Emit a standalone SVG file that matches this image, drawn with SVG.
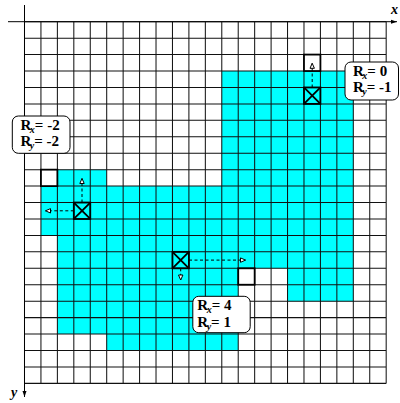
<svg xmlns="http://www.w3.org/2000/svg" width="400" height="403" viewBox="0 0 400 403">
<style>
.grid{fill:none;stroke:#111;stroke-width:0.062}
.fillreg{fill:#00FFFF;stroke:none}
.bold{fill:none;stroke:#000;stroke-width:0.11}
.wbox{fill:#fff;stroke:#000;stroke-width:0.11}
.axis{fill:none;stroke:#000;stroke-width:1}
.dash{fill:none;stroke:#000;stroke-width:1;stroke-dasharray:3,2.5}
.lblbox{fill:#fff;stroke:#000;stroke-width:1}
.lbl{font-family:"Liberation Serif","Times New Roman",serif;font-size:15px;font-weight:bold;fill:#000}
.sub{font-size:10px;font-style:italic}
.axl{font-family:"Liberation Serif","Times New Roman",serif;font-size:14px;font-weight:bold;font-style:italic;fill:#000}
</style>
<defs>
<marker id="ah" markerUnits="userSpaceOnUse" markerWidth="8" markerHeight="8" viewBox="0 0 8 8" refX="6" refY="4" orient="auto">
<path d="M1,1.8 L6,4 L1,6.2 Z" fill="#fff" stroke="#000" stroke-width="1"/>
</marker>
<marker id="axh" markerUnits="userSpaceOnUse" markerWidth="8" markerHeight="8" viewBox="0 0 8 8" refX="6" refY="4" orient="auto">
<path d="M0,2 L6,4 L0,6 Z" fill="#000" stroke="none"/>
</marker>
</defs>
<rect width="400" height="403" fill="#fff"/>
<g id="plane" transform="translate(24.5 21.7) scale(16.44)">
<path id="region" class="fillreg" d="M12,3 H20 V17 H16 V15 H13 V20 H5 V19 H2 V13 H1 V10 H2 V9 H5 V10 H12 Z"/>
<path class="grid" d="M0,0V22M1,0V22M2,0V22M3,0V22M4,0V22M5,0V22M6,0V22M7,0V22M8,0V22M9,0V22M10,0V22M11,0V22M12,0V22M13,0V22M14,0V22M15,0V22M16,0V22M17,0V22M18,0V22M19,0V22M20,0V22M21,0V22M22,0V22M0,0H22M0,1H22M0,2H22M0,3H22M0,4H22M0,5H22M0,6H22M0,7H22M0,8H22M0,9H22M0,10H22M0,11H22M0,12H22M0,13H22M0,14H22M0,15H22M0,16H22M0,17H22M0,18H22M0,19H22M0,20H22M0,21H22M0,22H22"/>
<g id="target1"><rect class="wbox" x="1" y="9" width="1" height="1"/></g>
<g id="target2"><rect class="wbox" x="17" y="2" width="1" height="1"/></g>
<g id="target3"><rect class="wbox" x="13" y="15" width="1" height="1"/></g>
<g id="cell1"><rect class="bold" x="3" y="11" width="1" height="1"/><path class="bold" d="M3,11 L4,12 M4,11 L3,12"/></g>
<g id="cell2"><rect class="bold" x="17" y="4" width="1" height="1"/><path class="bold" d="M17,4 L18,5 M18,4 L17,5"/></g>
<g id="cell3"><rect class="bold" x="9" y="14" width="1" height="1"/><path class="bold" d="M9,14 L10,15 M10,14 L9,15"/></g>
</g>
<g id="axes">
<line class="axis" x1="8" y1="21.7" x2="397" y2="21.7" marker-end="url(#axh)"/>
<line class="axis" x1="24.5" y1="5" x2="24.5" y2="397" marker-end="url(#axh)"/>
<text class="axl" x="391" y="14">x</text>
<text class="axl" x="11" y="397">y</text>
</g>
<g id="connectors">
<line class="dash" x1="73.8" y1="210.8" x2="45.5" y2="210.8" marker-end="url(#ah)"/>
<line class="dash" x1="82" y1="202.5" x2="82" y2="178.5" marker-end="url(#ah)"/>
<line class="dash" x1="312.2" y1="87.5" x2="312.2" y2="63.3" marker-end="url(#ah)"/>
<line class="dash" x1="189" y1="260.1" x2="245.5" y2="260.1" marker-end="url(#ah)"/>
<line class="dash" x1="180.7" y1="268.3" x2="180.7" y2="280" marker-end="url(#ah)"/>
</g>
<g id="label1">
<rect class="lblbox" x="12.3" y="116" width="57.7" height="37.3" rx="6"/>
<text class="lbl" x="20.5" y="129.5">R<tspan class="sub" dx="-1.5" dy="3">x</tspan><tspan dy="-3">= -2</tspan></text>
<text class="lbl" x="20.5" y="146">R<tspan class="sub" dx="-1.5" dy="3">y</tspan><tspan dy="-3">= -2</tspan></text>
</g>
<g id="label2">
<rect class="lblbox" x="345" y="62" width="53.5" height="38" rx="6"/>
<text class="lbl" x="353" y="75.5">R<tspan class="sub" dx="-1.5" dy="3">x</tspan><tspan dy="-3">= 0</tspan></text>
<text class="lbl" x="353" y="92">R<tspan class="sub" dx="-1.5" dy="3">y</tspan><tspan dy="-3">= -1</tspan></text>
</g>
<g id="label3">
<rect class="lblbox" x="192.8" y="296.3" width="57.4" height="36.4" rx="6"/>
<text class="lbl" x="197.3" y="310">R<tspan class="sub" dx="-1.5" dy="3">x</tspan><tspan dy="-3">= 4</tspan></text>
<text class="lbl" x="197.3" y="326.7">R<tspan class="sub" dx="-1.5" dy="3">y</tspan><tspan dy="-3">= 1</tspan></text>
</g>
</svg>
